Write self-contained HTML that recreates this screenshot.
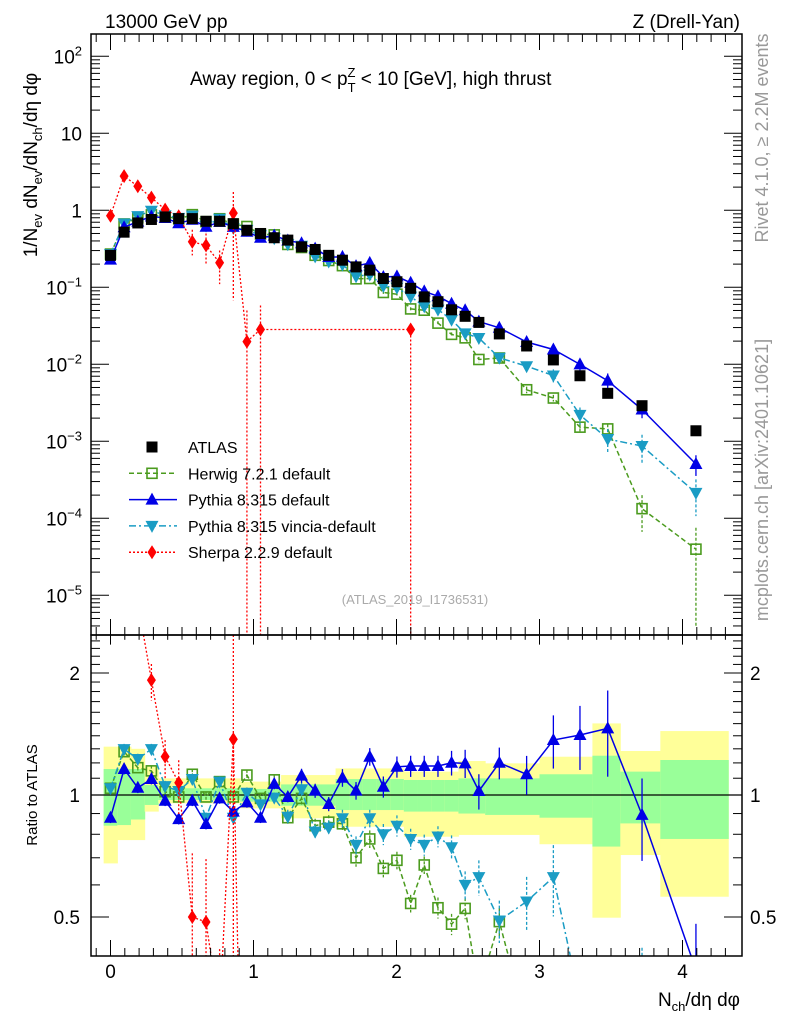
<!DOCTYPE html>
<html><head><meta charset="utf-8"><style>
html,body{margin:0;padding:0;background:#fff;width:786px;height:1024px;overflow:hidden;}
svg{display:block;font-family:"Liberation Sans",sans-serif;}
</style></head><body>
<svg id="chart" width="786" height="1024" viewBox="0 0 786 1024" xmlns="http://www.w3.org/2000/svg">
<defs>
<clipPath id="clipMain"><rect x="91" y="34" width="651" height="601"/></clipPath>
<clipPath id="clipRatio"><rect x="91" y="635" width="651" height="321"/></clipPath>
</defs>
<g id="bands" clip-path="url(#clipRatio)"></g>
<g id="marks"></g>
<rect x="91" y="34" width="651" height="601" fill="none" stroke="#000" stroke-width="1.5"/>
<rect x="91" y="635" width="651" height="321" fill="none" stroke="#000" stroke-width="1.5"/>
<g id="axes"></g>
<text x="105" y="28" font-size="19">13000 GeV pp</text>
<text x="740" y="28" font-size="19" text-anchor="end">Z (Drell-Yan)</text>
<text x="190" y="85" font-size="19">Away region, 0 &lt; p<tspan font-size="13" dy="7">T</tspan><tspan font-size="13" dx="-8" dy="-15">Z</tspan><tspan dy="8"> &lt; 10 [GeV], high thrust</tspan></text>
<text transform="translate(37,165) rotate(-90)" font-size="19" text-anchor="middle">1/N<tspan font-size="13" dy="5">ev</tspan><tspan dy="-5"> dN</tspan><tspan font-size="13" dy="5">ev</tspan><tspan dy="-5">/dN</tspan><tspan font-size="13" dy="5">ch</tspan><tspan dy="-5">/dη dφ</tspan></text>
<text transform="translate(37,795) rotate(-90)" font-size="15" text-anchor="middle">Ratio to ATLAS</text>
<text x="740" y="1006" font-size="19" text-anchor="end">N<tspan font-size="13" dy="5">ch</tspan><tspan dy="-5">/dη dφ</tspan></text>
<text transform="translate(768,138) rotate(-90)" font-size="18" fill="#999" text-anchor="middle">Rivet 4.1.0, ≥ 2.2M events</text>
<text transform="translate(768,480) rotate(-90)" font-size="18" fill="#999" text-anchor="middle">mcplots.cern.ch [arXiv:2401.10621]</text>
<text x="415" y="604" font-size="13" fill="#aaa" text-anchor="middle">(ATLAS_2019_I1736531)</text>
<g id="legend"></g>
</svg>
<script>
const xs = [0,0.095,0.191,0.286,0.382,0.477,0.572,0.668,0.763,0.859,0.954,1.049,1.145,1.240,1.336,1.431,1.526,1.622,1.717,1.813,1.908,2.003,2.099,2.194,2.290,2.385,2.480,2.576,2.719,2.910,3.097,3.283,3.477,3.717,4.094];
const atlas = [0.26,0.52,0.685,0.76,0.82,0.78,0.78,0.72,0.72,0.67,0.55,0.50,0.44,0.41,0.335,0.31,0.26,0.225,0.184,0.167,0.13,0.118,0.097,0.075,0.065,0.051,0.042,0.035,0.0248,0.0173,0.0114,0.0071,0.0042,0.0029,0.00137];
const herwigRatio = [1.039,1.279,1.168,1.147,1.019,0.989,1.125,0.989,1.079,0.989,1.12,0.981,1.09,0.879,0.981,0.84,0.857,0.849,0.70,0.779,0.659,0.69,0.54,0.672,0.527,0.48,0.525,0.33,0.487,0.27,0.32,0.215,0.345,0.046,0.029];
const pythiaRatio = [0.879,1.159,1.042,1.095,0.968,0.872,0.968,0.848,0.981,0.91,0.959,0.879,1.065,0.989,1.116,1.025,0.95,1.103,1.025,1.243,1.048,1.174,1.179,1.179,1.179,1.201,1.197,1.023,1.201,1.125,1.367,1.406,1.46,0.893,0.37];
const vinciaRatio = [1.039,1.298,1.227,1.298,1.052,1.023,1.095,0.879,1.079,0.879,1.013,0.948,0.985,0.884,1.033,0.812,0.831,0.876,0.753,0.876,0.8,0.84,0.779,0.753,0.79,0.743,0.6,0.627,0.49,0.546,0.627,0.31,0.255,0.30,0.156];
const herwigErr = [0.03,0.03,0.03,0.03,0.03,0.03,0.03,0.03,0.03,0.03,0.03,0.03,0.03,0.04,0.04,0.04,0.04,0.04,0.05,0.05,0.05,0.05,0.05,0.05,0.06,0.06,0.06,0.08,0.08,0.1,0.1,0.12,0.15,0.5,0.9];
const pythiaErr = [0.03,0.03,0.03,0.03,0.03,0.03,0.03,0.03,0.03,0.03,0.03,0.03,0.03,0.03,0.04,0.04,0.04,0.05,0.05,0.05,0.06,0.06,0.06,0.06,0.06,0.07,0.08,0.1,0.09,0.11,0.15,0.18,0.24,0.23,0.3];
const vinciaErr = [0.03,0.03,0.03,0.03,0.03,0.03,0.03,0.03,0.03,0.03,0.03,0.03,0.03,0.04,0.04,0.04,0.04,0.05,0.05,0.05,0.06,0.06,0.06,0.06,0.06,0.07,0.08,0.1,0.12,0.15,0.2,0.25,0.35,0.4,0.5];
const sherpa = [0.85,2.78,2.05,1.46,1.02,0.836,0.39,0.35,0.208,0.92,0.0197,0.0283,null,null,null,null,null,null,null,null,null,null,0.0283,null,null,null,null,null,null,null,null,null,null,null,null];
const sherpaLo = [0.78,2.6,1.9,1.3,0.9,0.7,0.26,0.2,0.11,0.068,1e-7,1e-7,null,null,null,null,null,null,null,null,null,null,1e-7,null,null,null,null,null,null,null,null,null,null,null,null];
const sherpaHi = [0.92,2.95,2.2,1.6,1.12,0.95,0.56,0.5,0.3,1.73,0.05,0.058,null,null,null,null,null,null,null,null,null,null,0.03,null,null,null,null,null,null,null,null,null,null,null,null];
const bandEdges = [-0.048,0.048,0.143,0.239,0.334,0.43,0.525,0.62,0.716,0.811,0.907,1.002,1.097,1.193,1.288,1.384,1.479,1.574,1.67,1.765,1.861,1.956,2.051,2.147,2.242,2.338,2.433,2.528,2.62,3.0,3.37,3.565,3.845,4.32];
const yellowHi = [1.316,1.316,1.30,1.175,1.099,1.099,1.099,1.099,1.099,1.099,1.079,1.079,1.079,1.12,1.12,1.12,1.12,1.163,1.163,1.163,1.163,1.163,1.142,1.142,1.142,1.142,1.213,1.213,1.197,1.243,1.502,1.284,1.438];
const yellowLo = [0.678,0.774,0.774,0.91,0.954,0.954,0.954,0.954,0.954,0.954,0.927,0.927,0.927,0.876,0.876,0.876,0.876,0.835,0.835,0.835,0.835,0.835,0.789,0.789,0.789,0.789,0.797,0.797,0.797,0.756,0.498,0.711,0.561];
const greenHi = [1.159,1.159,1.159,1.058,1.039,1.039,1.039,1.039,1.039,1.039,1.035,1.035,1.035,1.062,1.062,1.062,1.062,1.095,1.095,1.095,1.095,1.095,1.089,1.089,1.089,1.089,1.099,1.099,1.099,1.125,1.25,1.142,1.22];
const greenLo = [0.84,0.843,0.87,0.945,0.972,0.972,0.972,0.972,0.972,0.972,0.963,0.963,0.963,0.941,0.941,0.941,0.941,0.918,0.918,0.918,0.918,0.918,0.91,0.91,0.91,0.91,0.9,0.9,0.893,0.879,0.746,0.851,0.779];
const xTicks = [0,1,2,3,4];
const mainTicks = [2,1,0,-1,-2,-3,-4,-5];
const ratioTicks = [0.5,1,2];

const NS = "http://www.w3.org/2000/svg";
const px = x => 110.5 + 143 * x;
const pyMain = v => 210.3 - 77 * Math.log10(v);
const pyRatio = r => 795 - 122 * Math.log2(r);
const MAIN = [34, 635], RAT = [635, 956];
function mk(tag, attrs, parent) {
  const e = document.createElementNS(NS, tag);
  for (const k in attrs) e.setAttribute(k, attrs[k]);
  parent.appendChild(e);
  return e;
}
// clip a polyline to a vertical range, returning path data
function clipPath(pts, lim) {
  const [y0, y1] = lim; let d = ''; let pen = false;
  for (let i = 0; i < pts.length - 1; i++) {
    let [ax, ay] = pts[i], [bx, by] = pts[i + 1];
    let t0 = 0, t1 = 1; const dy = by - ay;
    if (dy === 0) { if (ay < y0 || ay > y1) { pen = false; continue; } }
    else {
      let ta = (y0 - ay) / dy, tb = (y1 - ay) / dy;
      if (ta > tb) [ta, tb] = [tb, ta];
      t0 = Math.max(0, ta); t1 = Math.min(1, tb);
      if (t0 > t1) { pen = false; continue; }
    }
    const sx = ax + (bx - ax) * t0, sy = ay + dy * t0, ex = ax + (bx - ax) * t1, ey = ay + dy * t1;
    if (!pen || t0 > 0) d += `M${sx.toFixed(1)},${sy.toFixed(1)}`;
    d += `L${ex.toFixed(1)},${ey.toFixed(1)}`;
    pen = t1 === 1;
  }
  return d || 'M0,0';
}
const clampY = (y, lim) => Math.min(lim[1], Math.max(lim[0], y));
const marks = document.getElementById('marks');
const bands = document.getElementById('bands');
const axes = document.getElementById('axes');

for (let i = 0; i < yellowHi.length; i++) {
  const x0 = px(bandEdges[i]), x1 = Math.min(px(bandEdges[i + 1]) + 0.5, 742);
  const y = mk('rect', {x: x0, y: pyRatio(yellowHi[i]), width: x1 - x0, height: pyRatio(yellowLo[i]) - pyRatio(yellowHi[i]), fill: '#ffff99'}, bands);
  
  
  const g = mk('rect', {x: x0, y: pyRatio(greenHi[i]), width: x1 - x0, height: pyRatio(greenLo[i]) - pyRatio(greenHi[i]), fill: '#99ff99'}, bands);
  
  
}
const one = mk('line', {x1: 91, x2: 742, y1: pyRatio(1), y2: pyRatio(1), stroke: '#000', 'stroke-width': 1.3}, bands);



const gMain = mk('g', {'clip-path': 'url(#clipMain)'}, marks);


const gRat = mk('g', {'clip-path': 'url(#clipRatio)'}, marks);



function marker(type, cx, cy, color, parent, name, lim) {
  if (lim && (cy < lim[0] - 8 || cy > lim[1] + 8)) return;
  let e;
  if (type === 'square') e = mk('rect', {x: cx - 5.5, y: cy - 5.5, width: 11, height: 11, fill: '#000'}, parent);
  else if (type === 'open') e = mk('rect', {x: cx - 5, y: cy - 5, width: 10, height: 10, fill: 'none', stroke: color, 'stroke-width': 1.6}, parent);
  else if (type === 'up') e = mk('polygon', {points: `${cx},${cy-7} ${cx-6.5},${cy+5} ${cx+6.5},${cy+5}`, fill: color}, parent);
  else if (type === 'down') e = mk('polygon', {points: `${cx},${cy+7} ${cx-6.5},${cy-5} ${cx+6.5},${cy-5}`, fill: color}, parent);
  else e = mk('polygon', {points: `${cx},${cy-7} ${cx-4.5},${cy} ${cx},${cy+7} ${cx+4.5},${cy}`, fill: color}, parent);
  
  
}
function errbar(cx, y1, y2, color, dash, parent, lim) {
  const a = clampY(y1, lim), b = clampY(y2, lim);
  if (a === b) return;
  const l = mk('line', {x1: cx, x2: cx, y1: a, y2: b, stroke: color, 'stroke-width': 1.3}, parent);
  if (dash) l.setAttribute('stroke-dasharray', dash);
  
  
}

const series = [
  {name: 'herwig', ratio: herwigRatio, err: herwigErr, color: '#4b9b1e', dash: '5,3', m: 'open'},
  {name: 'vincia', ratio: vinciaRatio, err: vinciaErr, color: '#1a9cc4', dash: '7,3,2,3', m: 'down'},
  {name: 'pythia', ratio: pythiaRatio, err: pythiaErr, color: '#0000e6', dash: null, m: 'up'}
];
series.forEach(s => {
  const ptsM = xs.map((x, i) => [px(x), pyMain(atlas[i] * s.ratio[i])]);
  const ptsR = xs.map((x, i) => [px(x), pyRatio(s.ratio[i])]);
  const lm = mk('path', {d: clipPath(ptsM, MAIN), fill: 'none', stroke: s.color, 'stroke-width': 1.5}, gMain);
  const lr = mk('path', {d: clipPath(ptsR, RAT), fill: 'none', stroke: s.color, 'stroke-width': 1.5}, gRat);
  if (s.dash) { lm.setAttribute('stroke-dasharray', s.dash); lr.setAttribute('stroke-dasharray', s.dash); }
  
  
  
  
  xs.forEach((x, i) => {
    const v = atlas[i] * s.ratio[i], r = s.ratio[i], e = s.err[i];
    errbar(px(x), pyMain(v * (1 + e)), pyMain(Math.max(v * (1 - e), 1e-8)), s.color, s.dash ? '3,2' : null, gMain, MAIN);
    errbar(px(x), pyRatio(r + r * e), pyRatio(Math.max(r - r * e, 0.01)), s.color, s.dash ? '3,2' : null, gRat, RAT);
    marker(s.m, px(x), pyMain(v), s.color, gMain, s.name + '-point', MAIN);
    marker(s.m, px(x), pyRatio(r), s.color, gRat, s.name + '-ratio-point', RAT);
  });
});

(function () {
  const col = '#ff0000';
  const idx = sherpa.map((v, i) => v === null ? -1 : i).filter(i => i >= 0);
  const ptsM = idx.map(i => [px(xs[i]), pyMain(sherpa[i])]);
  const ptsR = idx.map(i => [px(xs[i]), pyRatio(sherpa[i] / atlas[i])]);
  const lm = mk('path', {d: clipPath(ptsM, MAIN), fill: 'none', stroke: col, 'stroke-width': 1.3, 'stroke-dasharray': '2,2'}, gMain);
  
  
  const lr = mk('path', {d: clipPath(ptsR, RAT), fill: 'none', stroke: col, 'stroke-width': 1.3, 'stroke-dasharray': '2,2'}, gRat);
  
  
  idx.forEach(i => {
    const x = px(xs[i]);
    errbar(x, pyMain(sherpaHi[i]), pyMain(sherpaLo[i]), col, '2,2', gMain, MAIN);
    errbar(x, pyRatio(sherpaHi[i] / atlas[i]), pyRatio(Math.max(sherpaLo[i] / atlas[i], 0.01)), col, '2,2', gRat, RAT);
    marker('diamond', x, pyMain(sherpa[i]), col, gMain, 'sherpa-point', MAIN);
    marker('diamond', x, pyRatio(sherpa[i] / atlas[i]), col, gRat, 'sherpa-ratio-point', RAT);
  });
})();

xs.forEach((x, i) => {
  marker('square', px(x), pyMain(atlas[i]), '#000', gMain, 'atlas-point', MAIN);
});

function tick(x1, y1, x2, y2) {
  const t = mk('line', {x1, y1, x2, y2, stroke: '#000', 'stroke-width': 1}, axes);
  
  
}
function label(x, y, txt, anchor, size, name) {
  const t = mk('text', {x, y, 'text-anchor': anchor, 'font-size': size}, axes);
  t.textContent = txt;
  
  
  return t;
}
for (let k = -1; k <= 43; k++) {
  const x = k / 10; const X = px(x);
  if (X < 92 || X > 741) continue;
  const L = (k % 10 === 0) ? 16 : 8;
  tick(X, 956, X, 956 - L); tick(X, 635, X, 635 - L); tick(X, 635, X, 635 + L * 0.6); tick(X, 34, X, 34 + L);
}
xTicks.forEach(v => label(px(v), 978, String(v), 'middle', 19, 'x-tick-label'));
for (let d = -6; d <= 2; d++) {
  for (let m = 1; m <= 9; m++) {
    const v = m * Math.pow(10, d), Y = pyMain(v);
    if (Y < 35 || Y > 634) continue;
    const L = m === 1 ? 18 : 9;
    tick(91, Y, 91 + L, Y); tick(742, Y, 742 - L, Y);
  }
}
mainTicks.forEach(e => {
  const Y = pyMain(Math.pow(10, e)) + 7;
  let t;
  if (e === 0) t = label(82, Y, '1', 'end', 19, 'y-tick-label');
  else if (e === 1) t = label(82, Y, '10', 'end', 19, 'y-tick-label');
  else {
    t = label(82, Y, '', 'end', 19, 'y-tick-label');
    const a = document.createElementNS(NS, 'tspan'); a.textContent = '10'; t.appendChild(a);
    const b = document.createElementNS(NS, 'tspan'); b.textContent = String(e).replace('-', '−'); b.setAttribute('font-size', '13'); b.setAttribute('dy', '-8'); t.appendChild(b);
  }
});
for (let k = 4; k <= 24; k++) {
  const r = k / 10, Y = pyRatio(r);
  if (Y < 636 || Y > 955) continue;
  const L = (k === 5 || k === 10 || k === 20) ? 18 : 9;
  tick(91, Y, 91 + L, Y); tick(742, Y, 742 - L, Y);
}
ratioTicks.forEach(r => {
  label(80, pyRatio(r) + 7, String(r), 'end', 19, 'ratio-tick-label');
  label(750, pyRatio(r) + 7, String(r), 'start', 19, 'ratio-tick-label-right');
});

const leg = document.getElementById('legend');
const entries = [
  {t: 'ATLAS', m: 'square', c: '#000', dash: null, line: false},
  {t: 'Herwig 7.2.1 default', m: 'open', c: '#4b9b1e', dash: '5,3', line: true},
  {t: 'Pythia 8.315 default', m: 'up', c: '#0000e6', dash: null, line: true},
  {t: 'Pythia 8.315 vincia-default', m: 'down', c: '#1a9cc4', dash: '7,3,2,3', line: true},
  {t: 'Sherpa 2.2.9 default', m: 'diamond', c: '#ff0000', dash: '2,2', line: true}
];
entries.forEach((en, i) => {
  const y = 447 + i * 26.3;
  const g = mk('g', {}, leg);
  
  
  if (en.line) {
    const l = mk('line', {x1: 129, x2: 177, y1: y, y2: y, stroke: en.c, 'stroke-width': 1.5}, g);
    if (en.dash) l.setAttribute('stroke-dasharray', en.dash);
  }
  marker(en.m, 152, y, en.c, g, 'legend-marker');
  const t = mk('text', {x: 188, y: y + 6, 'font-size': 16}, g);
  t.textContent = en.t;
});
</script>
</body></html>
